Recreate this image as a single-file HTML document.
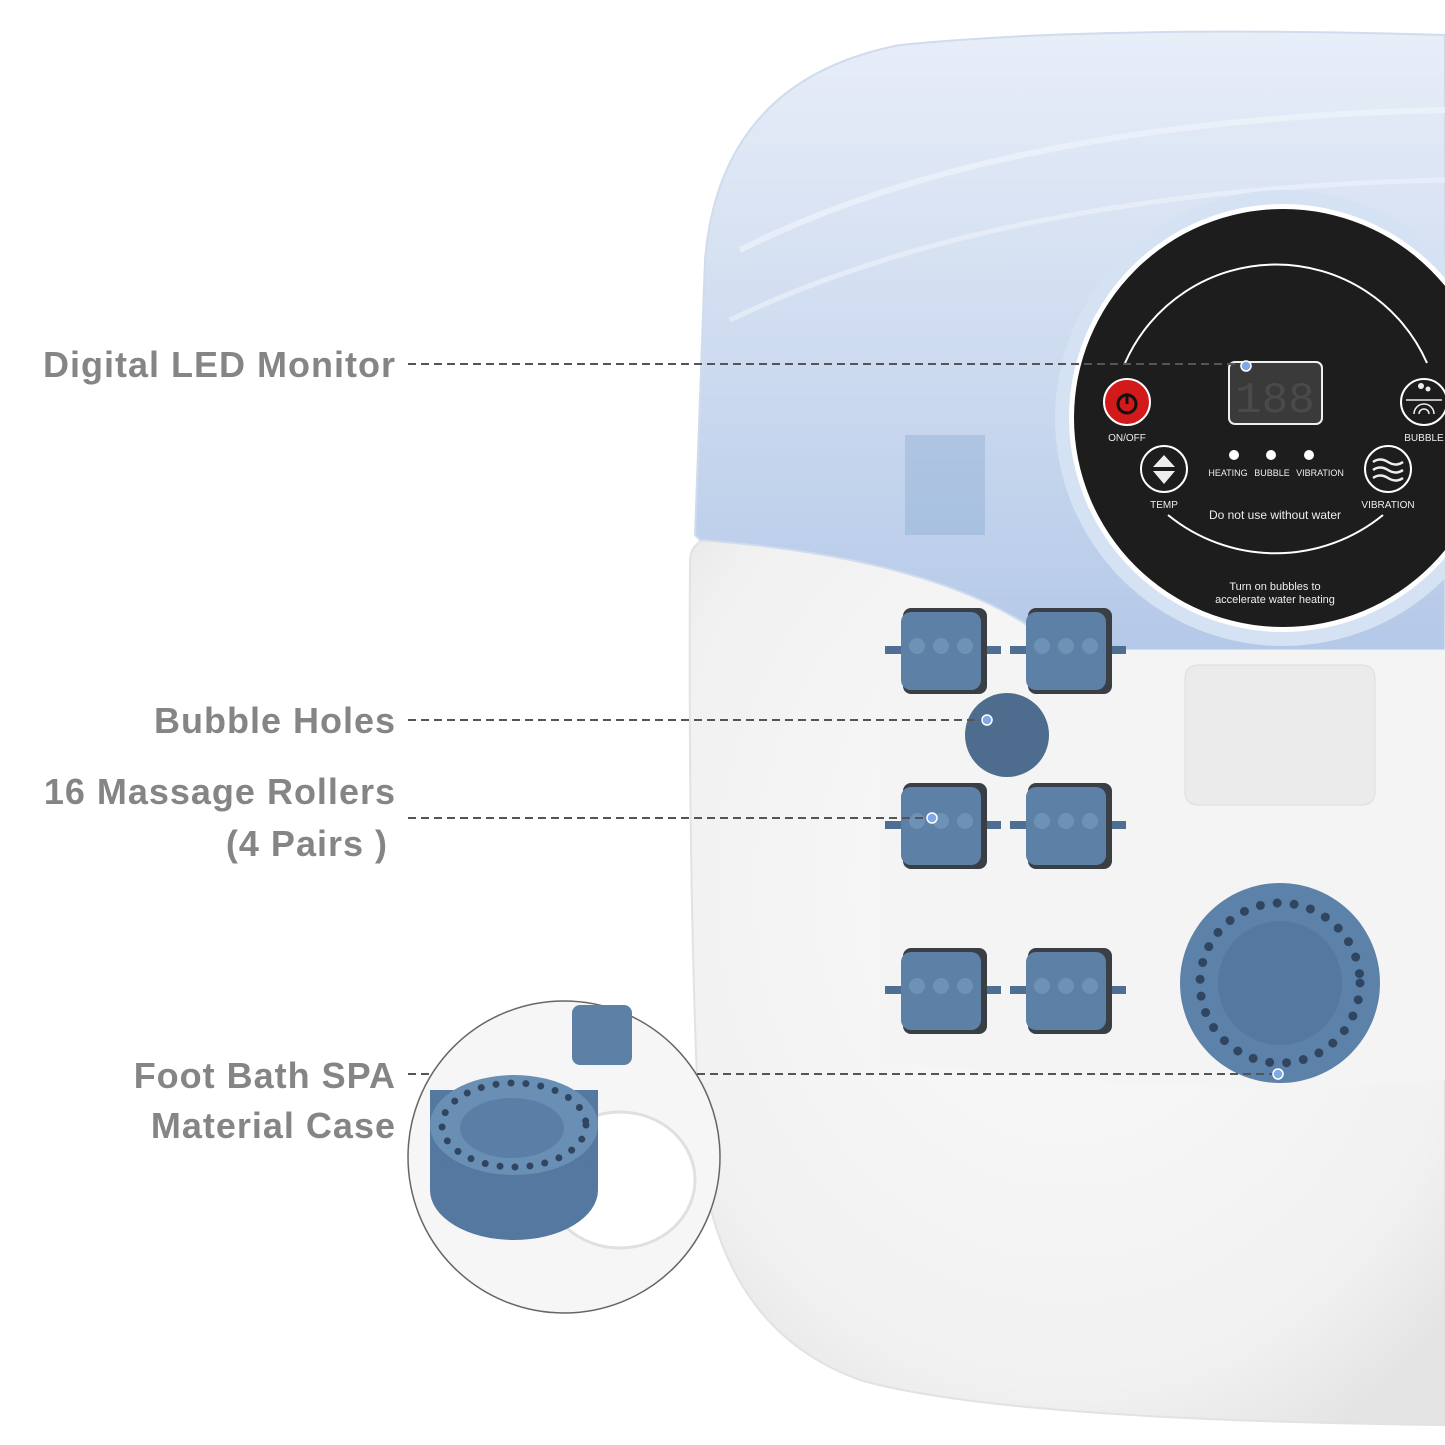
<!DOCTYPE html>
<html><head><meta charset="utf-8"><style>
body{margin:0;background:#fff}
svg{display:block}
.lbl{font-family:"Liberation Sans",sans-serif;font-weight:bold;font-size:36px;fill:#858585;letter-spacing:1px}
.p{font-family:"Liberation Sans",sans-serif;fill:#eee}
</style></head><body>
<svg width="1445" height="1445" viewBox="0 0 1445 1445" xmlns="http://www.w3.org/2000/svg">
<defs>
<linearGradient id="lid" x1="0" y1="0" x2="0" y2="1">
<stop offset="0" stop-color="#e8eef8"/><stop offset="0.5" stop-color="#cfdcf0"/><stop offset="1" stop-color="#b4c9e8"/></linearGradient>
<radialGradient id="body" cx="0.5" cy="0.4" r="0.7"><stop offset="0" stop-color="#fafafa"/><stop offset="0.8" stop-color="#f1f1f1"/><stop offset="1" stop-color="#e4e4e4"/></radialGradient>
<g id="roll"><rect x="-58" y="-4" width="116" height="8" fill="#4e6f92"/><rect x="-40" y="-42" width="84" height="86" rx="8" fill="#3a3f46"/><rect x="-42" y="-38" width="80" height="78" rx="10" fill="#5d81a6"/>
<circle cx="-26" cy="-4" r="8" fill="#6e92b6"/><circle cx="-2" cy="-4" r="8" fill="#6e92b6"/><circle cx="22" cy="-4" r="8" fill="#6e92b6"/></g>
</defs>
<path d="M690 560 Q690 530 760 530 L1445 530 L1445 1425 Q1000 1420 860 1380 Q720 1330 700 1150 Q688 900 690 560Z" fill="url(#body)" stroke="#e2e2e2" stroke-width="2"/>
<path d="M695 535 L705 260 Q720 80 900 45 Q1100 25 1445 35 L1445 650 L1060 650 Q960 560 700 540Z" fill="url(#lid)" stroke="#d0dcee" stroke-width="2"/>
<path d="M740 250 Q1000 120 1445 110" stroke="#eef3fb" stroke-width="6" fill="none" opacity=".7"/>
<path d="M730 320 Q1000 190 1445 180" stroke="#eef3fb" stroke-width="5" fill="none" opacity=".6"/>
<rect x="905" y="435" width="80" height="100" fill="#8aa9d2" opacity=".4"/>
<path d="M880 650 L1445 650 L1445 1080 Q1200 1100 880 1060Z" fill="#f4f4f4"/>
<use href="#roll" x="943" y="650"/><use href="#roll" x="1068" y="650"/>
<use href="#roll" x="943" y="825"/><use href="#roll" x="1068" y="825"/>
<use href="#roll" x="943" y="990"/><use href="#roll" x="1068" y="990"/>
<circle cx="1007" cy="735" r="42" fill="#4d6c8e"/>
<rect x="1185" y="665" width="190" height="140" rx="12" fill="#ebebeb" stroke="#ddd"/>
<circle cx="1280" cy="983" r="100" fill="#5d82aa"/>
<circle cx="1280" cy="983" r="62" fill="#5478a0"/>
<circle cx="1280" cy="983" r="80" fill="none" stroke="#2f4560" stroke-width="9" stroke-linecap="round" stroke-dasharray="0 17"/>
<circle cx="1283" cy="418" r="228" fill="#d5e2f3"/>
<circle cx="1283" cy="418" r="214" fill="#fff"/>
<circle cx="1283" cy="418" r="209" fill="#1d1d1e"/>
<path d="M1125 363 A165 165 0 0 1 1427 363" stroke="#fff" stroke-width="2" fill="none"/>
<path d="M1168 515 A170 170 0 0 0 1383 515" stroke="#fff" stroke-width="2" fill="none"/>
<rect x="1229" y="362" width="93" height="62" rx="6" fill="#3a3a3a" stroke="#eee" stroke-width="2"/>
<text x="1275" y="412" text-anchor="middle" font-family="Liberation Mono,monospace" font-size="44" fill="#4a4a4a">188</text>
<circle cx="1127" cy="402" r="23" fill="#d21a1a" stroke="#fff" stroke-width="2"/>
<circle cx="1127" cy="404" r="9" fill="none" stroke="#111" stroke-width="3"/><line x1="1127" y1="393" x2="1127" y2="404" stroke="#111" stroke-width="3"/>
<text x="1127" y="441" class="p" font-size="10" text-anchor="middle">ON/OFF</text>
<circle cx="1164" cy="469" r="23" fill="none" stroke="#fff" stroke-width="2"/>
<path d="M1164 455 L1175 467 L1153 467Z M1164 484 L1175 471 L1153 471Z" fill="#eee"/>
<text x="1164" y="508" class="p" font-size="10" text-anchor="middle">TEMP</text>
<circle cx="1388" cy="469" r="23" fill="none" stroke="#fff" stroke-width="2"/>
<path d="M1373 462 q7-5 15 0 t15 0 M1373 470 q7-5 15 0 t15 0 M1373 478 q7-5 15 0 t15 0" stroke="#eee" stroke-width="2.5" fill="none"/>
<text x="1388" y="508" class="p" font-size="10" text-anchor="middle">VIBRATION</text>
<circle cx="1424" cy="402" r="23" fill="none" stroke="#fff" stroke-width="2"/>
<circle cx="1421" cy="386" r="3" fill="#eee"/><circle cx="1428" cy="389" r="2.5" fill="#eee"/><line x1="1406" y1="400" x2="1442" y2="400" stroke="#eee" stroke-width="1.5"/>
<path d="M1414 414 a10 10 0 0 1 20 0 M1419 414 a5 5 0 0 1 10 0" stroke="#eee" stroke-width="1.5" fill="none"/>
<text x="1424" y="441" class="p" font-size="10" text-anchor="middle">BUBBLE</text>
<circle cx="1234" cy="455" r="5" fill="#fff"/><circle cx="1271" cy="455" r="5" fill="#fff"/><circle cx="1309" cy="455" r="5" fill="#fff"/>
<text x="1228" y="476" class="p" font-size="9" text-anchor="middle">HEATING</text>
<text x="1272" y="476" class="p" font-size="9" text-anchor="middle">BUBBLE</text>
<text x="1320" y="476" class="p" font-size="9" text-anchor="middle">VIBRATION</text>
<text x="1275" y="519" class="p" font-size="12" text-anchor="middle">Do not use without water</text>
<text x="1275" y="590" class="p" font-size="11" text-anchor="middle">Turn on bubbles to</text>
<text x="1275" y="603" class="p" font-size="11" text-anchor="middle">accelerate water heating</text>
<circle cx="564" cy="1157" r="156" fill="#f6f6f6" stroke="#666" stroke-width="1.5"/>
<ellipse cx="620" cy="1180" rx="75" ry="68" fill="#fff" stroke="#e0e0e0" stroke-width="3"/>
<rect x="572" y="1005" width="60" height="60" rx="8" fill="#5d81a6"/>
<rect x="430" y="1090" width="168" height="100" fill="#5478a0"/>
<ellipse cx="514" cy="1190" rx="84" ry="50" fill="#5478a0"/>
<ellipse cx="514" cy="1125" rx="84" ry="50" fill="#6a8fb5"/>
<ellipse cx="512" cy="1128" rx="52" ry="30" fill="#5a7ea5"/>
<ellipse cx="514" cy="1125" rx="72" ry="42" fill="none" stroke="#2f4560" stroke-width="7" stroke-linecap="round" stroke-dasharray="0 15"/>
<g class="lbl">
<text x="396" y="377" text-anchor="end">Digital LED Monitor</text>
<text x="396" y="733" text-anchor="end">Bubble Holes</text>
<text x="396" y="804" text-anchor="end">16 Massage Rollers</text>
<text x="388" y="856" text-anchor="end">(4 Pairs )</text>
<text x="396" y="1088" text-anchor="end">Foot Bath SPA</text>
<text x="396" y="1138" text-anchor="end">Material Case</text>
</g>
<g stroke="#555" stroke-width="2" stroke-dasharray="8 5" fill="none">
<line x1="408" y1="364" x2="1245" y2="364"/>
<line x1="408" y1="720" x2="985" y2="720"/>
<line x1="408" y1="818" x2="930" y2="818"/>
<line x1="408" y1="1074" x2="432" y2="1074"/>
<line x1="697" y1="1074" x2="1278" y2="1074"/>
</g>
<g fill="#7fa8e8" stroke="#fff" stroke-width="1.5">
<circle cx="1246" cy="366" r="5"/><circle cx="987" cy="720" r="5"/><circle cx="932" cy="818" r="5"/><circle cx="1278" cy="1074" r="5"/>
</g>
</svg>
</body></html>
